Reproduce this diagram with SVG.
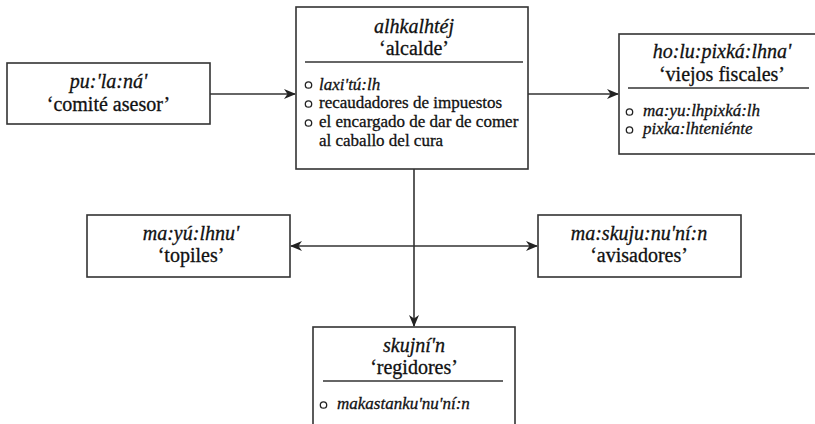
<svg xmlns="http://www.w3.org/2000/svg" width="815" height="424" viewBox="0 0 815 424">
<defs>
<style>
.box{fill:#fff;stroke:#333;stroke-width:1.6}
.rule{stroke:#333;stroke-width:1.4}
.t{font-family:"Liberation Serif","Times New Roman",serif;fill:#111;stroke:#111;stroke-width:0.3}
.ti{font-size:20px;font-style:italic;text-anchor:middle}
.tr{font-size:20px;text-anchor:middle}
.b{font-size:17px}
.bi{font-size:17px;font-style:italic}
.dot{fill:none;stroke:#222;stroke-width:1.3}
.conn{stroke:#333;stroke-width:1.6;fill:none}
</style>
<marker id="ah" viewBox="0 0 12 10" refX="11" refY="5" markerWidth="12" markerHeight="10" markerUnits="userSpaceOnUse" orient="auto-start-reverse">
<path d="M0,0 L12,5 L0,10 L3.5,5 z" fill="#222"/>
</marker>
</defs>
<rect width="815" height="424" fill="#fff"/>
<g id="connectors">
<line class="conn" x1="210" y1="94" x2="295" y2="94" marker-end="url(#ah)"/>
<line class="conn" x1="528" y1="94" x2="618" y2="94" marker-end="url(#ah)"/>
<line class="conn" x1="414" y1="169" x2="414" y2="326" marker-end="url(#ah)"/>
<line class="conn" x1="291" y1="246" x2="537" y2="246" marker-start="url(#ah)" marker-end="url(#ah)"/>
</g>
<g id="pulana">
<rect class="box" x="7" y="63" width="203" height="61"/>
<text class="t ti" x="108.5" y="88">pu:'la:ná'</text>
<text class="t tr" x="108.5" y="111">‘comité asesor’</text>
</g>
<g id="alcalde">
<rect class="box" x="296" y="7" width="232" height="162"/>
<text class="t ti" x="414" y="33">alhkalhtéj</text>
<text class="t tr" x="414" y="55">‘alcalde’</text>
<line class="rule" x1="305" y1="62" x2="523" y2="62"/>
<circle class="dot" cx="308.5" cy="85" r="3.2"/>
<text class="t bi" x="319" y="90">laxi'tú:lh</text>
<circle class="dot" cx="308.5" cy="104" r="3.2"/>
<text class="t b" x="319" y="108">recaudadores de impuestos</text>
<circle class="dot" cx="308.5" cy="123" r="3.2"/>
<text class="t b" x="319" y="127">el encargado de dar de comer</text>
<text class="t b" x="319" y="146">al caballo del cura</text>
</g>
<g id="fiscales">
<rect class="box" x="619" y="34" width="220" height="120"/>
<text class="t ti" x="722" y="58">ho:lu:pixká:lhna'</text>
<text class="t tr" x="722" y="81">‘viejos fiscales’</text>
<line class="rule" x1="628" y1="88" x2="809" y2="88"/>
<circle class="dot" cx="629.5" cy="112" r="3.2"/>
<text class="t bi" x="643" y="116">ma:yu:lhpixká:lh</text>
<circle class="dot" cx="629.5" cy="130" r="3.2"/>
<text class="t bi" x="643" y="134">pixka:lhteniénte</text>
</g>
<g id="topiles">
<rect class="box" x="87" y="215" width="203" height="62"/>
<text class="t ti" x="191" y="240">ma:yú:lhnu'</text>
<text class="t tr" x="191" y="262">‘topiles’</text>
</g>
<g id="avisadores">
<rect class="box" x="538" y="215" width="203" height="62"/>
<text class="t ti" x="639" y="240">ma:skuju:nu'ní:n</text>
<text class="t tr" x="639" y="262">‘avisadores’</text>
</g>
<g id="regidores">
<rect class="box" x="313" y="327" width="202" height="120"/>
<text class="t ti" x="414" y="352">skujní'n</text>
<text class="t tr" x="414" y="374">‘regidores’</text>
<line class="rule" x1="323" y1="381" x2="503" y2="381"/>
<circle class="dot" cx="323.5" cy="405" r="3.2"/>
<text class="t bi" x="337" y="409">makastanku'nu'ní:n</text>
</g>
</svg>
